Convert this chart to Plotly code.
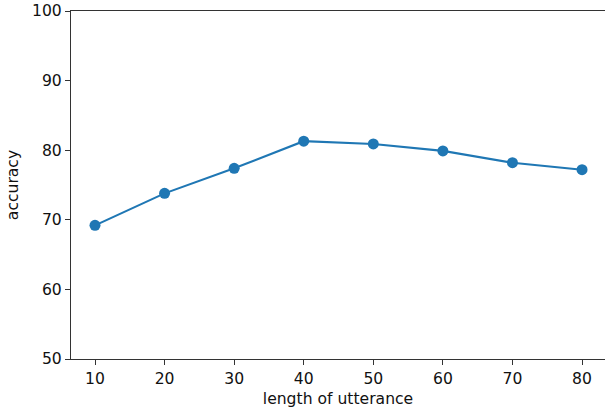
import plotly.graph_objects as go

# Accuracy by utterance length
lengths = [10, 20, 30, 40, 50, 60, 70, 80]
accuracy = [69.2, 73.8, 77.4, 81.3, 80.9, 79.9, 78.2, 77.2]
x_ticks = [10, 20, 30, 40, 50, 60, 70, 80]
y_ticks = [50, 60, 70, 80, 90, 100]

blue = "#1f77b4"
spine = "#333333"
text_font = dict(family="DejaVu Sans", size=15.6, color="#111111")

fig = go.Figure(
    go.Scatter(
        x=lengths,
        y=accuracy,
        mode="lines+markers",
        line=dict(color=blue, width=2.1),
        marker=dict(color=blue, size=11),
        cliponaxis=False,
    )
)

fig.update_layout(
    width=605,
    height=410,
    margin=dict(l=71, r=0, t=11, b=51),
    paper_bgcolor="white",
    plot_bgcolor="white",
    font=text_font,
    showlegend=False,
)

fig.update_xaxes(
    range=[6.55, 83.3],
    tickvals=x_ticks,
    ticks="outside",
    ticklen=5,
    tickwidth=1,
    tickcolor=spine,
    tickfont=text_font,
    showline=True,
    linecolor=spine,
    linewidth=1.2,
    mirror=True,
    showgrid=False,
    zeroline=False,
    title=dict(text="length of utterance", font=text_font, standoff=6),
)

fig.update_yaxes(
    range=[50, 100],
    tickvals=y_ticks,
    ticks="outside",
    ticklen=5,
    tickwidth=1,
    tickcolor=spine,
    tickfont=text_font,
    showline=True,
    linecolor=spine,
    linewidth=1.2,
    showgrid=False,
    zeroline=False,
    title=dict(text="accuracy", font=text_font, standoff=9),
)

fig.write_html("out.html")
